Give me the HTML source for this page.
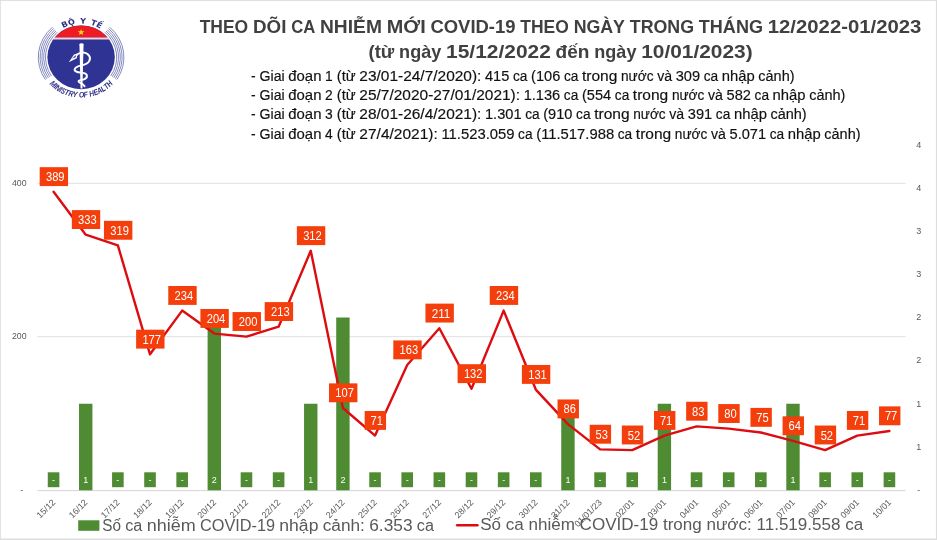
<!DOCTYPE html>
<html lang="vi"><head><meta charset="utf-8"><title>Theo dõi ca nhiễm mới COVID-19</title>
<style>html,body{margin:0;padding:0;background:#fff;overflow:hidden}svg{display:block;font-family:"Liberation Sans", sans-serif}</style></head><body>
<svg width="937" height="540" viewBox="0 0 937 540">
<rect x="0" y="0" width="937" height="540" fill="#fff"/>
<g fill="#dddddd"><rect x="0" y="0" width="937" height="0.9"/><rect x="0" y="0" width="0.8" height="540"/><rect x="935.9" y="0" width="1.1" height="540"/><rect x="0" y="538.5" width="937" height="1.5"/></g>
<line x1="37.5" y1="336.67" x2="905.5" y2="336.67" stroke="#e1e1e1" stroke-width="1"/>
<line x1="37.5" y1="183.33" x2="905.5" y2="183.33" stroke="#e1e1e1" stroke-width="1"/>
<line x1="37.5" y1="490.60" x2="905.5" y2="490.60" stroke="#d4d4d4" stroke-width="1"/>
<g font-size="9.5" fill="#595959">
<text x="12.0" y="185.83" textLength="14.6" lengthAdjust="spacingAndGlyphs">400</text>
<text x="12.0" y="339.17" textLength="14.6" lengthAdjust="spacingAndGlyphs">200</text>
<text x="20.3" y="493.00">-</text>
</g>
<g font-size="9" fill="#595959" text-anchor="middle">
<text x="918.7" y="492.80">-</text>
<text x="918.7" y="449.68">1</text>
<text x="918.7" y="406.55">1</text>
<text x="918.7" y="363.43">2</text>
<text x="918.7" y="320.30">2</text>
<text x="918.7" y="277.18">3</text>
<text x="918.7" y="234.05">3</text>
<text x="918.7" y="190.93">4</text>
<text x="918.7" y="147.80">4</text>
</g>
<g fill="#4f8b33">
<rect x="47.77" y="472.3" width="11.6" height="14.9"/>
<rect x="79.02" y="403.75" width="13.40" height="86.55"/>
<rect x="112.07" y="472.3" width="11.6" height="14.9"/>
<rect x="144.22" y="472.3" width="11.6" height="14.9"/>
<rect x="176.37" y="472.3" width="11.6" height="14.9"/>
<rect x="207.61" y="317.50" width="13.40" height="172.80"/>
<rect x="240.66" y="472.3" width="11.6" height="14.9"/>
<rect x="272.81" y="472.3" width="11.6" height="14.9"/>
<rect x="304.06" y="403.75" width="13.40" height="86.55"/>
<rect x="336.21" y="317.50" width="13.40" height="172.80"/>
<rect x="369.26" y="472.3" width="11.6" height="14.9"/>
<rect x="401.40" y="472.3" width="11.6" height="14.9"/>
<rect x="433.55" y="472.3" width="11.6" height="14.9"/>
<rect x="465.70" y="472.3" width="11.6" height="14.9"/>
<rect x="497.85" y="472.3" width="11.6" height="14.9"/>
<rect x="530.00" y="472.3" width="11.6" height="14.9"/>
<rect x="561.24" y="403.75" width="13.40" height="86.55"/>
<rect x="594.29" y="472.3" width="11.6" height="14.9"/>
<rect x="626.44" y="472.3" width="11.6" height="14.9"/>
<rect x="657.69" y="403.75" width="13.40" height="86.55"/>
<rect x="690.74" y="472.3" width="11.6" height="14.9"/>
<rect x="722.89" y="472.3" width="11.6" height="14.9"/>
<rect x="755.03" y="472.3" width="11.6" height="14.9"/>
<rect x="786.28" y="403.75" width="13.40" height="86.55"/>
<rect x="819.33" y="472.3" width="11.6" height="14.9"/>
<rect x="851.48" y="472.3" width="11.6" height="14.9"/>
<rect x="883.63" y="472.3" width="11.6" height="14.9"/>
</g>
<g font-size="9" fill="#fff" text-anchor="middle">
<text x="53.57" y="483.4">-</text>
<text x="85.72" y="483.4">1</text>
<text x="117.87" y="483.4">-</text>
<text x="150.02" y="483.4">-</text>
<text x="182.17" y="483.4">-</text>
<text x="214.31" y="483.4">2</text>
<text x="246.46" y="483.4">-</text>
<text x="278.61" y="483.4">-</text>
<text x="310.76" y="483.4">1</text>
<text x="342.91" y="483.4">2</text>
<text x="375.06" y="483.4">-</text>
<text x="407.20" y="483.4">-</text>
<text x="439.35" y="483.4">-</text>
<text x="471.50" y="483.4">-</text>
<text x="503.65" y="483.4">-</text>
<text x="535.80" y="483.4">-</text>
<text x="567.94" y="483.4">1</text>
<text x="600.09" y="483.4">-</text>
<text x="632.24" y="483.4">-</text>
<text x="664.39" y="483.4">1</text>
<text x="696.54" y="483.4">-</text>
<text x="728.69" y="483.4">-</text>
<text x="760.83" y="483.4">-</text>
<text x="792.98" y="483.4">1</text>
<text x="825.13" y="483.4">-</text>
<text x="857.28" y="483.4">-</text>
<text x="889.43" y="483.4">-</text>
</g>
<polyline points="53.57,191.77 85.72,234.70 117.87,245.43 150.02,354.30 182.17,310.60 214.31,333.60 246.46,336.67 278.61,326.70 310.76,250.80 342.91,407.97 375.06,435.57 407.20,365.03 439.35,328.23 471.50,388.80 503.65,310.60 535.80,389.57 567.94,424.07 600.09,449.37 632.24,450.13 664.39,435.57 696.54,426.37 728.69,428.67 760.83,432.50 792.98,440.93 825.13,450.13 857.28,435.57 889.43,430.97" fill="none" stroke="#dc0c10" stroke-width="2.4" stroke-linejoin="round" stroke-linecap="round"/>
<g fill="#f43f0c">
<rect x="39.67" y="167.17" width="28.4" height="18.9"/>
<rect x="71.82" y="210.10" width="28.4" height="18.9"/>
<rect x="103.97" y="220.83" width="28.4" height="18.9"/>
<rect x="136.12" y="329.70" width="28.4" height="18.9"/>
<rect x="168.27" y="286.00" width="28.4" height="18.9"/>
<rect x="200.41" y="309.00" width="28.4" height="18.9"/>
<rect x="232.56" y="312.07" width="28.4" height="18.9"/>
<rect x="264.71" y="302.10" width="28.4" height="18.9"/>
<rect x="296.86" y="226.20" width="28.4" height="18.9"/>
<rect x="329.01" y="383.37" width="28.4" height="18.9"/>
<rect x="364.66" y="410.97" width="21.4" height="18.9"/>
<rect x="393.30" y="340.43" width="28.4" height="18.9"/>
<rect x="425.45" y="303.63" width="28.4" height="18.9"/>
<rect x="457.60" y="364.20" width="28.4" height="18.9"/>
<rect x="489.75" y="286.00" width="28.4" height="18.9"/>
<rect x="521.90" y="364.97" width="28.4" height="18.9"/>
<rect x="557.54" y="399.47" width="21.4" height="18.9"/>
<rect x="589.69" y="424.77" width="21.4" height="18.9"/>
<rect x="621.84" y="425.53" width="21.4" height="18.9"/>
<rect x="653.99" y="410.97" width="21.4" height="18.9"/>
<rect x="686.14" y="401.77" width="21.4" height="18.9"/>
<rect x="718.29" y="404.07" width="21.4" height="18.9"/>
<rect x="750.43" y="407.90" width="21.4" height="18.9"/>
<rect x="782.58" y="416.33" width="21.4" height="18.9"/>
<rect x="814.73" y="425.53" width="21.4" height="18.9"/>
<rect x="846.88" y="410.97" width="21.4" height="18.9"/>
<rect x="879.03" y="406.37" width="21.4" height="18.9"/>
</g>
<g font-size="12.2" fill="#fff">
<text x="45.97" y="181.17" textLength="18.6" lengthAdjust="spacingAndGlyphs">389</text>
<text x="78.12" y="224.10" textLength="18.6" lengthAdjust="spacingAndGlyphs">333</text>
<text x="110.27" y="234.83" textLength="18.6" lengthAdjust="spacingAndGlyphs">319</text>
<text x="142.42" y="343.70" textLength="18.6" lengthAdjust="spacingAndGlyphs">177</text>
<text x="174.57" y="300.00" textLength="18.6" lengthAdjust="spacingAndGlyphs">234</text>
<text x="206.71" y="323.00" textLength="18.6" lengthAdjust="spacingAndGlyphs">204</text>
<text x="238.86" y="326.07" textLength="18.6" lengthAdjust="spacingAndGlyphs">200</text>
<text x="271.01" y="316.10" textLength="18.6" lengthAdjust="spacingAndGlyphs">213</text>
<text x="303.16" y="240.20" textLength="18.6" lengthAdjust="spacingAndGlyphs">312</text>
<text x="335.31" y="397.37" textLength="18.6" lengthAdjust="spacingAndGlyphs">107</text>
<text x="370.56" y="424.97" textLength="12.4" lengthAdjust="spacingAndGlyphs">71</text>
<text x="399.60" y="354.43" textLength="18.6" lengthAdjust="spacingAndGlyphs">163</text>
<text x="431.75" y="317.63" textLength="18.6" lengthAdjust="spacingAndGlyphs">211</text>
<text x="463.90" y="378.20" textLength="18.6" lengthAdjust="spacingAndGlyphs">132</text>
<text x="496.05" y="300.00" textLength="18.6" lengthAdjust="spacingAndGlyphs">234</text>
<text x="528.20" y="378.97" textLength="18.6" lengthAdjust="spacingAndGlyphs">131</text>
<text x="563.44" y="413.47" textLength="12.4" lengthAdjust="spacingAndGlyphs">86</text>
<text x="595.59" y="438.77" textLength="12.4" lengthAdjust="spacingAndGlyphs">53</text>
<text x="627.74" y="439.53" textLength="12.4" lengthAdjust="spacingAndGlyphs">52</text>
<text x="659.89" y="424.97" textLength="12.4" lengthAdjust="spacingAndGlyphs">71</text>
<text x="692.04" y="415.77" textLength="12.4" lengthAdjust="spacingAndGlyphs">83</text>
<text x="724.19" y="418.07" textLength="12.4" lengthAdjust="spacingAndGlyphs">80</text>
<text x="756.33" y="421.90" textLength="12.4" lengthAdjust="spacingAndGlyphs">75</text>
<text x="788.48" y="430.33" textLength="12.4" lengthAdjust="spacingAndGlyphs">64</text>
<text x="820.63" y="439.53" textLength="12.4" lengthAdjust="spacingAndGlyphs">52</text>
<text x="852.78" y="424.97" textLength="12.4" lengthAdjust="spacingAndGlyphs">71</text>
<text x="884.93" y="420.37" textLength="12.4" lengthAdjust="spacingAndGlyphs">77</text>
</g>
<g font-size="8.9" fill="#595959" text-anchor="end">
<text transform="translate(55.97,503.00) rotate(-45)">15/12</text>
<text transform="translate(88.12,503.00) rotate(-45)">16/12</text>
<text transform="translate(120.27,503.00) rotate(-45)">17/12</text>
<text transform="translate(152.42,503.00) rotate(-45)">18/12</text>
<text transform="translate(184.57,503.00) rotate(-45)">19/12</text>
<text transform="translate(216.71,503.00) rotate(-45)">20/12</text>
<text transform="translate(248.86,503.00) rotate(-45)">21/12</text>
<text transform="translate(281.01,503.00) rotate(-45)">22/12</text>
<text transform="translate(313.16,503.00) rotate(-45)">23/12</text>
<text transform="translate(345.31,503.00) rotate(-45)">24/12</text>
<text transform="translate(377.46,503.00) rotate(-45)">25/12</text>
<text transform="translate(409.60,503.00) rotate(-45)">26/12</text>
<text transform="translate(441.75,503.00) rotate(-45)">27/12</text>
<text transform="translate(473.90,503.00) rotate(-45)">28/12</text>
<text transform="translate(506.05,503.00) rotate(-45)">29/12</text>
<text transform="translate(538.20,503.00) rotate(-45)">30/12</text>
<text transform="translate(570.34,503.00) rotate(-45)">31/12</text>
<text transform="translate(602.49,503.00) rotate(-45)">01/01/23</text>
<text transform="translate(634.64,503.00) rotate(-45)">02/01</text>
<text transform="translate(666.79,503.00) rotate(-45)">03/01</text>
<text transform="translate(698.94,503.00) rotate(-45)">04/01</text>
<text transform="translate(731.09,503.00) rotate(-45)">05/01</text>
<text transform="translate(763.23,503.00) rotate(-45)">06/01</text>
<text transform="translate(795.38,503.00) rotate(-45)">07/01</text>
<text transform="translate(827.53,503.00) rotate(-45)">08/01</text>
<text transform="translate(859.68,503.00) rotate(-45)">09/01</text>
<text transform="translate(891.83,503.00) rotate(-45)">10/01</text>
</g>
<rect x="78.2" y="520.3" width="21.2" height="10.5" fill="#4f8b33"/>
<g font-size="15.6" fill="#595959"><text y="530.50"><tspan x="102.20" textLength="18.76" lengthAdjust="spacingAndGlyphs">Số</tspan><tspan x="125.26" textLength="17.14" lengthAdjust="spacingAndGlyphs">ca</tspan><tspan x="146.70" textLength="48.98" lengthAdjust="spacingAndGlyphs">nhiễm</tspan><tspan x="199.98" textLength="75.08" lengthAdjust="spacingAndGlyphs">COVID-19</tspan><tspan x="279.35" textLength="39.07" lengthAdjust="spacingAndGlyphs">nhập</tspan><tspan x="322.72" textLength="42.20" lengthAdjust="spacingAndGlyphs">cảnh:</tspan><tspan x="369.22" textLength="43.34" lengthAdjust="spacingAndGlyphs">6.353</tspan><tspan x="416.86" textLength="17.14" lengthAdjust="spacingAndGlyphs">ca</tspan></text></g>
<line x1="457.2" y1="525.2" x2="477.4" y2="525.2" stroke="#dc0c10" stroke-width="2.6" stroke-linecap="round"/>
<text x="480.2" y="530.3" font-size="17.04" fill="#595959" textLength="383" lengthAdjust="spacing">Số ca nhiễm COVID-19 trong nước: 11.519.558 ca</text>
<g font-weight="bold" fill="#404040" font-size="17.8">
<text y="32.70"><tspan x="199.70" textLength="48.52" lengthAdjust="spacingAndGlyphs">THEO</tspan><tspan x="253.02" textLength="33.34" lengthAdjust="spacingAndGlyphs">DÕI</tspan><tspan x="291.15" textLength="24.07" lengthAdjust="spacingAndGlyphs">CA</tspan><tspan x="320.01" textLength="61.88" lengthAdjust="spacingAndGlyphs">NHIỄM</tspan><tspan x="386.67" textLength="38.99" lengthAdjust="spacingAndGlyphs">MỚI</tspan><tspan x="430.46" textLength="85.06" lengthAdjust="spacingAndGlyphs">COVID-19</tspan><tspan x="520.31" textLength="48.52" lengthAdjust="spacingAndGlyphs">THEO</tspan><tspan x="573.63" textLength="51.35" lengthAdjust="spacingAndGlyphs">NGÀY</tspan><tspan x="629.77" textLength="64.24" lengthAdjust="spacingAndGlyphs">TRONG</tspan><tspan x="698.80" textLength="64.17" lengthAdjust="spacingAndGlyphs">THÁNG</tspan><tspan x="767.77" textLength="153.63" lengthAdjust="spacingAndGlyphs">12/2022-01/2023</tspan></text>
<text y="57.70"><tspan x="368.50" textLength="25.83" lengthAdjust="spacingAndGlyphs">(từ</tspan><tspan x="399.14" textLength="42.16" lengthAdjust="spacingAndGlyphs">ngày</tspan><tspan x="446.12" textLength="104.69" lengthAdjust="spacingAndGlyphs">15/12/2022</tspan><tspan x="555.62" textLength="33.86" lengthAdjust="spacingAndGlyphs">đến</tspan><tspan x="594.30" textLength="42.16" lengthAdjust="spacingAndGlyphs">ngày</tspan><tspan x="641.28" textLength="111.32" lengthAdjust="spacingAndGlyphs">10/01/2023)</tspan></text>
</g>
<g fill="#111" font-size="13.8" stroke="#111" stroke-width="0.15">
<text y="80.50"><tspan x="251.00">-</tspan><tspan x="259.53" textLength="25.15" lengthAdjust="spacingAndGlyphs">Giai</tspan><tspan x="288.30" textLength="33.16" lengthAdjust="spacingAndGlyphs">đoạn</tspan><tspan x="325.09">1</tspan><tspan x="336.84" textLength="18.92" lengthAdjust="spacingAndGlyphs">(từ</tspan><tspan x="359.38" textLength="122.00" lengthAdjust="spacingAndGlyphs">23/01-24/7/2020):</tspan><tspan x="485.01" textLength="24.37" lengthAdjust="spacingAndGlyphs">415</tspan><tspan x="513.01" textLength="14.46" lengthAdjust="spacingAndGlyphs">ca</tspan><tspan x="531.09" textLength="29.23" lengthAdjust="spacingAndGlyphs">(106</tspan><tspan x="563.95" textLength="14.46" lengthAdjust="spacingAndGlyphs">ca</tspan><tspan x="582.03" textLength="35.38" lengthAdjust="spacingAndGlyphs">trong</tspan><tspan x="621.03" textLength="32.50" lengthAdjust="spacingAndGlyphs">nước</tspan><tspan x="657.15" textLength="14.92" lengthAdjust="spacingAndGlyphs">và</tspan><tspan x="675.69" textLength="24.37" lengthAdjust="spacingAndGlyphs">309</tspan><tspan x="703.69" textLength="14.46" lengthAdjust="spacingAndGlyphs">ca</tspan><tspan x="721.77" textLength="32.94" lengthAdjust="spacingAndGlyphs">nhập</tspan><tspan x="758.34" textLength="36.16" lengthAdjust="spacingAndGlyphs">cảnh)</tspan></text>
<text y="99.87"><tspan x="251.00">-</tspan><tspan x="259.53" textLength="25.15" lengthAdjust="spacingAndGlyphs">Giai</tspan><tspan x="288.30" textLength="33.16" lengthAdjust="spacingAndGlyphs">đoạn</tspan><tspan x="325.09">2</tspan><tspan x="336.84" textLength="18.92" lengthAdjust="spacingAndGlyphs">(từ</tspan><tspan x="359.38" textLength="160.69" lengthAdjust="spacingAndGlyphs">25/7/2020-27/01/2021):</tspan><tspan x="523.70" textLength="36.54" lengthAdjust="spacingAndGlyphs">1.136</tspan><tspan x="563.87" textLength="14.46" lengthAdjust="spacingAndGlyphs">ca</tspan><tspan x="581.95" textLength="29.23" lengthAdjust="spacingAndGlyphs">(554</tspan><tspan x="614.81" textLength="14.46" lengthAdjust="spacingAndGlyphs">ca</tspan><tspan x="632.89" textLength="35.38" lengthAdjust="spacingAndGlyphs">trong</tspan><tspan x="671.89" textLength="32.50" lengthAdjust="spacingAndGlyphs">nước</tspan><tspan x="708.01" textLength="14.92" lengthAdjust="spacingAndGlyphs">và</tspan><tspan x="726.55" textLength="24.37" lengthAdjust="spacingAndGlyphs">582</tspan><tspan x="754.55" textLength="14.46" lengthAdjust="spacingAndGlyphs">ca</tspan><tspan x="772.63" textLength="32.94" lengthAdjust="spacingAndGlyphs">nhập</tspan><tspan x="809.20" textLength="36.16" lengthAdjust="spacingAndGlyphs">cảnh)</tspan></text>
<text y="119.24"><tspan x="251.00">-</tspan><tspan x="259.53" textLength="25.15" lengthAdjust="spacingAndGlyphs">Giai</tspan><tspan x="288.30" textLength="33.16" lengthAdjust="spacingAndGlyphs">đoạn</tspan><tspan x="325.09">3</tspan><tspan x="336.84" textLength="18.92" lengthAdjust="spacingAndGlyphs">(từ</tspan><tspan x="359.38" textLength="122.00" lengthAdjust="spacingAndGlyphs">28/01-26/4/2021):</tspan><tspan x="485.01" textLength="36.54" lengthAdjust="spacingAndGlyphs">1.301</tspan><tspan x="525.18" textLength="14.46" lengthAdjust="spacingAndGlyphs">ca</tspan><tspan x="543.26" textLength="29.23" lengthAdjust="spacingAndGlyphs">(910</tspan><tspan x="576.12" textLength="14.46" lengthAdjust="spacingAndGlyphs">ca</tspan><tspan x="594.20" textLength="35.38" lengthAdjust="spacingAndGlyphs">trong</tspan><tspan x="633.20" textLength="32.50" lengthAdjust="spacingAndGlyphs">nước</tspan><tspan x="669.32" textLength="14.92" lengthAdjust="spacingAndGlyphs">và</tspan><tspan x="687.86" textLength="24.37" lengthAdjust="spacingAndGlyphs">391</tspan><tspan x="715.86" textLength="14.46" lengthAdjust="spacingAndGlyphs">ca</tspan><tspan x="733.94" textLength="32.94" lengthAdjust="spacingAndGlyphs">nhập</tspan><tspan x="770.51" textLength="36.16" lengthAdjust="spacingAndGlyphs">cảnh)</tspan></text>
<text y="138.61"><tspan x="251.00">-</tspan><tspan x="259.53" textLength="25.15" lengthAdjust="spacingAndGlyphs">Giai</tspan><tspan x="288.30" textLength="33.16" lengthAdjust="spacingAndGlyphs">đoạn</tspan><tspan x="325.09">4</tspan><tspan x="336.84" textLength="18.92" lengthAdjust="spacingAndGlyphs">(từ</tspan><tspan x="359.38" textLength="78.40" lengthAdjust="spacingAndGlyphs">27/4/2021):</tspan><tspan x="441.41" textLength="73.09" lengthAdjust="spacingAndGlyphs">11.523.059</tspan><tspan x="518.12" textLength="14.46" lengthAdjust="spacingAndGlyphs">ca</tspan><tspan x="536.21" textLength="77.95" lengthAdjust="spacingAndGlyphs">(11.517.988</tspan><tspan x="617.78" textLength="14.46" lengthAdjust="spacingAndGlyphs">ca</tspan><tspan x="635.86" textLength="35.38" lengthAdjust="spacingAndGlyphs">trong</tspan><tspan x="674.86" textLength="32.50" lengthAdjust="spacingAndGlyphs">nước</tspan><tspan x="710.99" textLength="14.92" lengthAdjust="spacingAndGlyphs">và</tspan><tspan x="729.53" textLength="36.54" lengthAdjust="spacingAndGlyphs">5.071</tspan><tspan x="769.70" textLength="14.46" lengthAdjust="spacingAndGlyphs">ca</tspan><tspan x="787.78" textLength="32.94" lengthAdjust="spacingAndGlyphs">nhập</tspan><tspan x="824.35" textLength="36.16" lengthAdjust="spacingAndGlyphs">cảnh)</tspan></text>
</g>
<g transform="translate(81.10,57.30) scale(1.057,1)">
<g fill="none" stroke="#7a7fb9" stroke-width="0.9">
<path d="M-22.55 -25.04A33.70 33.70 0 0 0 -28.10 18.60"/>
<path d="M22.55 -25.04A33.70 33.70 0 0 1 28.10 18.60"/>
<path d="M-23.69 -26.31A35.40 35.40 0 0 0 -29.52 19.54"/>
<path d="M23.69 -26.31A35.40 35.40 0 0 1 29.52 19.54"/>
<path d="M-24.82 -27.57A37.10 37.10 0 0 0 -30.94 20.48"/>
<path d="M24.82 -27.57A37.10 37.10 0 0 1 30.94 20.48"/>
<path d="M-25.96 -28.83A38.80 38.80 0 0 0 -32.35 21.42"/>
<path d="M25.96 -28.83A38.80 38.80 0 0 1 32.35 21.42"/>
<path d="M-27.10 -30.10A40.50 40.50 0 0 0 -33.77 22.35"/>
<path d="M27.10 -30.10A40.50 40.50 0 0 1 33.77 22.35"/>
</g>
<circle cx="0" cy="0" r="31.90" fill="#2f3394"/>
<path d="M-25.09 -19.70A31.90 31.90 0 0 1 25.09 -19.70Z" fill="#ec1b24"/>
<path d="M-25.09 -19.70L25.09 -19.70L26.54 -17.70L-26.54 -17.70Z" fill="#f9d3da"/>
<polygon points="0.00,-28.40 0.79,-26.09 3.23,-26.05 1.28,-24.58 2.00,-22.25 0.00,-23.65 -2.00,-22.25 -1.28,-24.58 -3.23,-26.05 -0.79,-26.09" fill="#ffde17"/>
<path d="M-1.57 -12.80L2.33 -12.80L1.28 31.30L-0.52 31.30Z" fill="#fff"/>
<ellipse cx="0.38" cy="-12.70" rx="2.05" ry="1.4" fill="#fff"/>
<path d="M-4.35 -2.30C-1.99 -4.80 2.74 -5.80 6.05 -3.30C9.84 -0.30 8.89 5.20 3.69 7.00C-1.04 8.70 -6.24 9.20 -6.15 12.30C-6.05 15.30 -1.04 15.00 2.74 15.90C6.53 16.90 6.34 20.70 2.74 22.00C0.38 22.90 -2.65 22.50 -2.37 24.30C-2.08 25.70 1.32 25.30 3.31 28.90" fill="none" stroke="#fff" stroke-width="1.9" stroke-linecap="round" stroke-linejoin="round"/>
<path d="M-3.31 -3.90 L-6.72 -2.70 L-11.64 4.90 L-4.07 0.90 Z" fill="#fff"/>
<path d="M-4.82 -2.30 L-8.61 1.30 L-5.20 -0.10 Z" fill="#2f3394"/>
<g font-family="'DejaVu Sans', 'Liberation Sans', sans-serif" font-size="7.60" fill="#2b2e83" text-anchor="middle" font-weight="bold">
<text transform="translate(-14.45,-30.55) rotate(-25.3) scale(1.015,1)">B</text>
<text transform="translate(-8.62,-32.68) rotate(-14.8) scale(1.015,1)">Ộ</text>
<text transform="translate(1.66,-33.76) rotate(2.8) scale(1.015,1)">Y</text>
<text transform="translate(11.17,-31.90) rotate(19.3) scale(1.015,1)">T</text>
<text transform="translate(15.99,-29.78) rotate(28.2) scale(1.015,1)">Ế</text>
</g>
<g font-family="'Liberation Sans', sans-serif" font-size="8.00" fill="#2b2e83" text-anchor="middle" font-weight="bold" font-style="italic">
<text transform="translate(-28.37,28.62) rotate(44.8) scale(0.791,1)">M</text>
<text transform="translate(-25.77,30.98) rotate(39.8) scale(0.791,1)">I</text>
<text transform="translate(-23.26,32.91) rotate(35.3) scale(0.791,1)">N</text>
<text transform="translate(-20.61,34.63) rotate(30.8) scale(0.791,1)">I</text>
<text transform="translate(-17.98,36.07) rotate(26.5) scale(0.791,1)">S</text>
<text transform="translate(-14.28,37.69) rotate(20.7) scale(0.791,1)">T</text>
<text transform="translate(-10.26,38.97) rotate(14.8) scale(0.791,1)">R</text>
<text transform="translate(-5.96,39.86) rotate(8.5) scale(0.791,1)">Y</text>
<text transform="translate(0.35,40.30) rotate(-0.5) scale(0.791,1)">O</text>
<text transform="translate(4.74,40.02) rotate(-6.8) scale(0.791,1)">F</text>
<text transform="translate(10.60,38.88) rotate(-15.3) scale(0.791,1)">H</text>
<text transform="translate(14.77,37.49) rotate(-21.5) scale(0.791,1)">E</text>
<text transform="translate(18.77,35.66) rotate(-27.8) scale(0.791,1)">A</text>
<text transform="translate(22.39,33.51) rotate(-33.8) scale(0.791,1)">L</text>
<text transform="translate(25.50,31.21) rotate(-39.3) scale(0.791,1)">T</text>
<text transform="translate(28.62,28.37) rotate(-45.3) scale(0.791,1)">H</text>
</g>
</g>
</svg></body></html>
